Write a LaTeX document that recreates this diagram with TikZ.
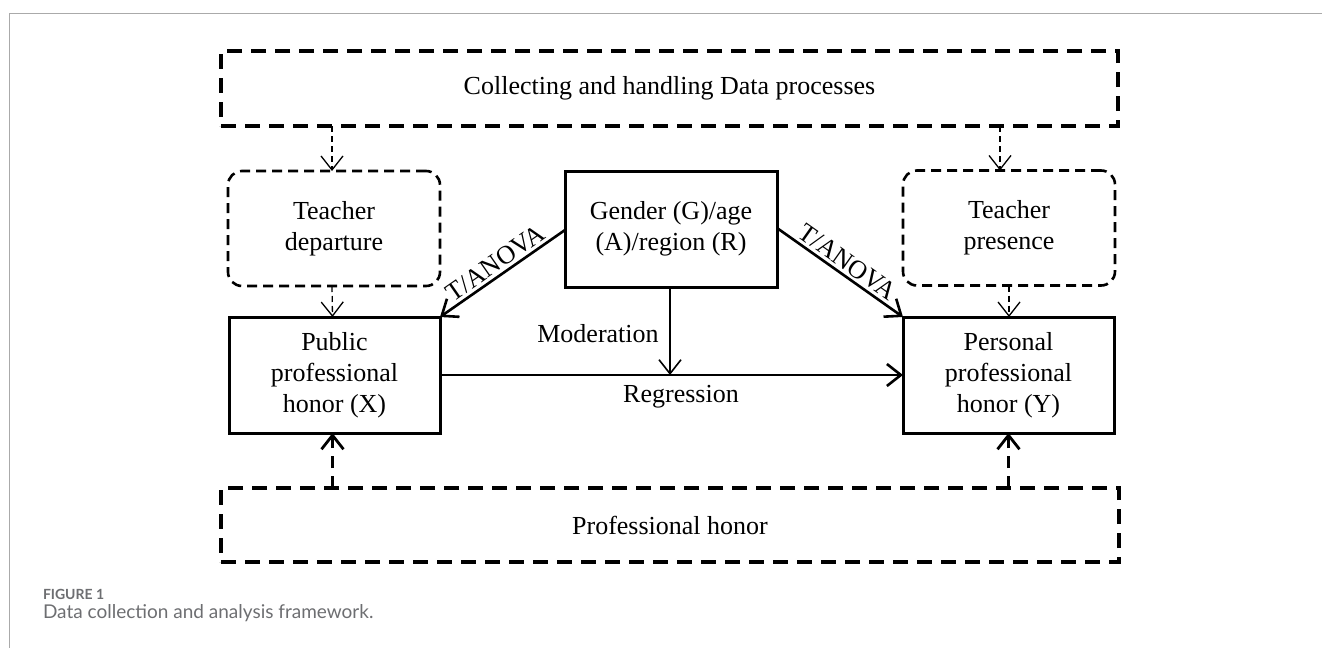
\documentclass[tikz,border=0pt]{standalone}
\usepackage{fontspec}
\setmainfont{Liberation Serif}
\newfontfamily\capfont{Lato}
\usetikzlibrary{arrows.meta}
\definecolor{capgray}{HTML}{6D6E71}
\definecolor{framegray}{HTML}{AAAAAA}
\begin{document}
\begin{tikzpicture}[x=1pt,y=-1pt,
  every node/.style={inner sep=0pt,outer sep=0pt},
  txt/.style={font=\fontsize{26}{31}\selectfont,align=center},
  bigdash/.style={draw,line width=3.2pt,dash pattern=on 15pt off 9pt,txt},
  rounddash/.style={draw,line width=2.6pt,dash pattern=on 10pt off 6pt,rounded corners=14pt,minimum width=212pt,minimum height=115pt,txt},
  solidbox/.style={draw,line width=3pt,minimum width=211pt,minimum height=116pt,txt},
  barb/.style={-{Straight Barb[length=14pt,width=22pt]}},
  thinarrow/.style={barb,line width=1.3pt,dash pattern=on 6pt off 4pt},
  thickdasharrow/.style={barb,line width=2.8pt,dash pattern=on 12pt off 8pt},
  mainarrow/.style={barb,line width=2.6pt},
  modarrow/.style={barb,line width=1.6pt},
  lbl/.style={font=\fontsize{26}{31}\selectfont}
]
\useasboundingbox (0,0) rectangle (1322,648);
\draw[framegray,line width=1pt] (1322,13) coordinate (fr1) -- (9,13) coordinate (fr2) -- (9,648) coordinate (fr3);

\node[bigdash,minimum width=897pt,minimum height=75pt] (top) at (669.5,88.5) {Collecting and handling Data processes};
\node[bigdash,minimum width=898pt,minimum height=74pt] (prof) at (670,525) {Professional honor};

\node[rounddash] (dep) at (334,228.5) {Teacher\\departure};
\node[rounddash] (pres) at (1009,228) {Teacher\\presence};
\node[solidbox,minimum width=212pt] (gen) at (671,229) {Gender (G)/age\\(A)/region (R)};
\node[solidbox] (pub) at (334.5,375) {Public\\professional\\honor (X)};
\node[solidbox] (per) at (1008.5,375) {Personal\\professional\\honor (Y)};

% top arrows
\draw[thinarrow] ([xshift=-2pt]top.south -| dep.north) -- ([xshift=-2pt]dep.north);
\draw[thinarrow] ([xshift=-9pt]top.south -| pres.north) -- ([xshift=-9pt]pres.north);
\draw[thinarrow] ([xshift=-2pt]dep.south) -- ([xshift=-2pt]pub.north);
\draw[thinarrow] (pres.south) -- (pres.south |- per.north);

% bottom arrows
\draw[thickdasharrow] ([xshift=-2pt]prof.north -| pub.south) -- ([xshift=-2pt]pub.south);
\draw[thickdasharrow] (prof.north -| per.south) -- (per.south);

% T/ANOVA arrows
\draw[mainarrow] ([yshift=-1pt]gen.west) -- node[lbl,sloped,above=4pt] {T/ANOVA} (pub.north east);
\draw[mainarrow] ([yshift=1pt]gen.east) -- node[lbl,sloped,above=4pt] {T/ANOVA} (per.north west);

% regression
\draw[mainarrow] (pub.east) -- (per.west);
\node[lbl,anchor=base] (reg) at (681,402) {Regression};

% moderation
\draw[modarrow] ([xshift=-1pt]gen.south) -- ([xshift=-1pt]gen.south |- pub.east);
\node[lbl,anchor=base] (mod) at (598,342) {Moderation};

% caption
\node[anchor=base west,text=capgray,font=\capfont\fontsize{14}{16}\selectfont\bfseries] (fig) at (43,599) {FIGURE 1};
\node[anchor=base west,text=capgray,font=\capfont\fontsize{19}{22}\selectfont] (cap) at (43,618) {Data collection and analysis framework.};
\end{tikzpicture}
\end{document}
